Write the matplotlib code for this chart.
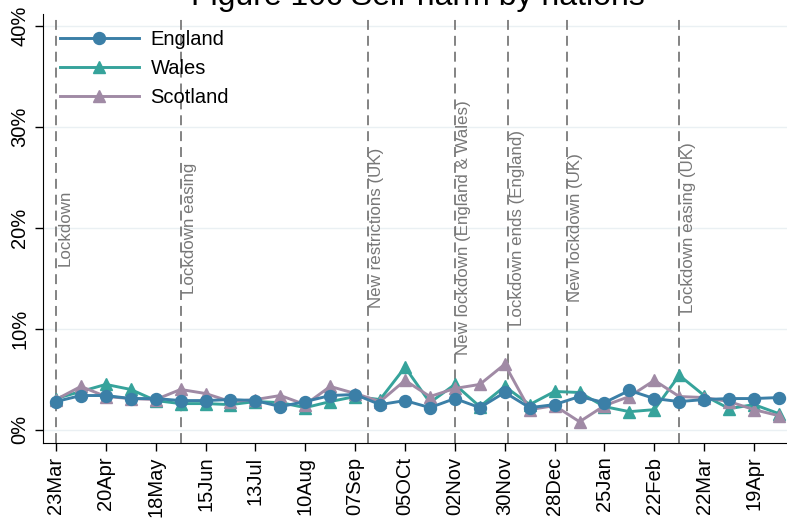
import datetime as dt
import matplotlib
matplotlib.use("Agg")
import matplotlib.pyplot as plt
import matplotlib.dates as mdates
from matplotlib.ticker import FuncFormatter

plt.rcParams['font.family'] = ['Liberation Sans', 'DejaVu Sans']

# fortnightly series starting 23 Mar 2020 (percent)
start = dt.date(2020, 3, 23)
england = [2.8, 3.4, 3.4, 3.1, 3.1, 2.9, 2.9, 3.0, 2.9, 2.3, 2.8, 3.4, 3.5, 2.5, 2.9,
           2.2, 3.1, 2.2, 3.7, 2.2, 2.5, 3.3, 2.7, 3.9, 3.1, 2.8, 3.0, 3.1, 3.1, 3.2]
wales = [3.1, 3.8, 4.5, 4.0, 2.9, 2.6, 2.6, 2.5, 2.8, 2.7, 2.2, 2.8, 3.3, 3.0, 6.2,
         2.7, 4.5, 2.3, 4.3, 2.5, 3.8, 3.7, 2.3, 1.8, 2.0, 5.4, 3.4, 2.1, 2.5, 1.6]
scotland = [3.0, 4.3, 3.3, 3.1, 3.0, 4.0, 3.6, 2.8, 3.0, 3.4, 2.5, 4.3, 3.6, 2.8, 4.9,
            3.3, 4.1, 4.5, 6.5, 2.0, 2.4, 0.8, 2.4, 3.3, 4.9, 3.3, 3.2, 2.8, 2.0, 1.4]
dates = [start + dt.timedelta(days=14 * i) for i in range(len(england))]

tick_dates = [start + dt.timedelta(days=28 * i) for i in range(15)]
tick_labels = ['23Mar', '20Apr', '18May', '15Jun', '13Jul', '10Aug', '07Sep', '05OCt',
               '02Nov', '30Nov', '28Dec', '25Jan', '22Feb', '22Mar', '19Apr']

event_dates = [dt.date(2020, 3, 23), dt.date(2020, 6, 1), dt.date(2020, 9, 14),
               dt.date(2020, 11, 2), dt.date(2020, 12, 2), dt.date(2021, 1, 4),
               dt.date(2021, 3, 8)]
event_labels = ['Lockdown', 'Lockdown easing', 'New restrictions (UK)',
                'New lockdown (England & Wales)', 'Lockdown ends (England)',
                'New lockdown (UK)', 'Lockdown easing (UK)']

fig = plt.figure(figsize=(7.87, 5.21), dpi=100)
ax = fig.add_axes([0.0546, 0.15, 0.9454, 0.823])

for y in [0, 10, 20, 30, 40]:
    ax.axhline(y, color='#eaf0f3', lw=1.0, zorder=0)

for d, lab in zip(event_dates, event_labels):
    ax.axvline(d, color='#7a7a7a', lw=1.3, dashes=(5.5, 3.3), zorder=1)
    ax.annotate(lab, (mdates.date2num(d), 20), xytext=(1, 0), textcoords='offset points',
                rotation=90, ha='left', va='center', fontsize=12.2, color='#777777')

ax.plot(dates, england, color='#3b7fa7', lw=2.1, marker='o', ms=8.6, label='England', zorder=4)
ax.plot(dates, wales, color='#36a39b', lw=2.1, marker='^', ms=8.6, label='Wales', zorder=3)
ax.plot(dates, scotland, color='#a08aa5', lw=2.1, marker='^', ms=8.6, label='Scotland', zorder=3)

ax.set_xlim(mdates.date2num(start) - 7.3, mdates.date2num(start) + 410.5)
ax.set_ylim(-1.29, 41.2)
ax.set_xticks(tick_dates)
ax.set_xticklabels(tick_labels, rotation=90, fontsize=14.5)
ax.set_yticks([0, 10, 20, 30, 40])
ax.yaxis.set_major_formatter(FuncFormatter(lambda v, p: f'{v:.0f}%'))
for t in ax.get_yticklabels():
    t.set_rotation(90)
    t.set_va('center')
    t.set_fontsize(14.5)
ax.tick_params(axis='both', length=6, width=1, pad=4)

for s in ['top', 'right']:
    ax.spines[s].set_visible(False)

ax.legend(loc='upper left', bbox_to_anchor=(0.066, 0.958), bbox_transform=fig.transFigure,
          frameon=False, fontsize=14.5, handlelength=3.9, handletextpad=0.6,
          labelspacing=0.5, borderaxespad=0)

fig.text(0.5305, 1 - 5 / 521, 'Figure 10c Self-harm by nations', ha='center', va='baseline',
         fontsize=23)

fig.savefig('out.png', dpi=100)
